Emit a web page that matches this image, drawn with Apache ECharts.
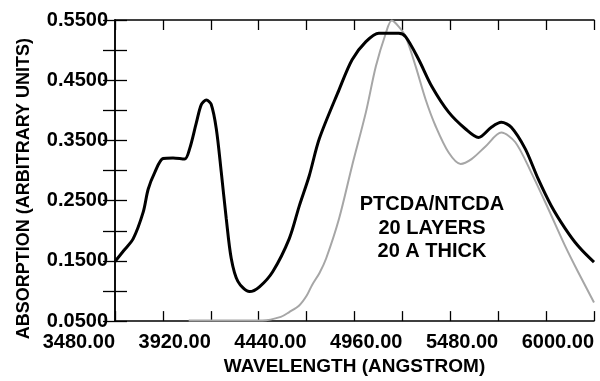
<!DOCTYPE html>
<html>
<head>
<meta charset="utf-8">
<script src="https://cdn.jsdelivr.net/npm/echarts@6/dist/echarts.min.js"></script>
<style>
  html, body { margin: 0; padding: 0; background: #fff; }
  #chart { width: 600px; height: 381px; }
</style>
</head>
<body>
<div id="chart"></div>
<script>
// multilayer spectrum (thick black line)
const multiWl = [3400, 3450, 3499, 3553, 3580, 3616, 3661, 3715, 3778, 3805, 3842, 3869, 3896, 3922,
  3950, 3977, 4004, 4031, 4067, 4130, 4184, 4256, 4346, 4400, 4454, 4508, 4616, 4687, 4762, 4832,
  4940, 4978, 5049, 5119, 5211, 5303, 5373, 5443, 5497, 5551, 5627, 5697, 5767, 5843, 5913, 6000];
const multiAbs = [0.149, 0.168, 0.187, 0.231, 0.269, 0.297, 0.320, 0.321, 0.319, 0.336, 0.380, 0.410, 0.417, 0.410,
  0.369, 0.297, 0.220, 0.154, 0.116, 0.099, 0.107, 0.132, 0.187, 0.241, 0.291, 0.352, 0.434, 0.484, 0.514, 0.528,
  0.528, 0.522, 0.484, 0.440, 0.397, 0.369, 0.355, 0.372, 0.380, 0.372, 0.336, 0.286, 0.242, 0.204, 0.175, 0.148];

// reference spectrum (thin grey line)
const refWl = [3800, 4000, 4200, 4300, 4346, 4400, 4440, 4470, 4510, 4546, 4616, 4687, 4762, 4816, 4870, 4902, 4940,
  4978, 5032, 5086, 5140, 5211, 5276, 5335, 5411, 5497, 5573, 5659, 5751, 5843, 5913, 6000];
const refAbs = [0.051, 0.051, 0.051, 0.057, 0.065, 0.076, 0.092, 0.110, 0.130, 0.154, 0.220, 0.308, 0.397, 0.473, 0.528, 0.549, 0.539,
  0.522, 0.473, 0.418, 0.374, 0.330, 0.311, 0.319, 0.340, 0.363, 0.347, 0.297, 0.237, 0.175, 0.132, 0.081];

const xTickLabels = ["3480.00", "3920.00", "4440.00", "4960.00", "5480.00", "6000.00"];

// x axis starts at 3400 with a tick every 260
const wlStart = 3400;
const wlStep = 260;

const font = "Liberation Sans, Arial, sans-serif";

const myChart = echarts.init(document.getElementById("chart"));

const tickStyle = { color: "#000", width: 1.3 };

const option = {
  animation: false,
  grid: { left: 115, right: 6, top: 20, bottom: 58 },
  title: {
    text: "PTCDA/NTCDA\n20 LAYERS\n20 A THICK",
    left: 427,
    top: 188,
    textAlign: "center",
    textStyle: {
      fontFamily: font,
      fontWeight: "bold",
      fontSize: 20,
      lineHeight: 23.5,
      color: "#000"
    }
  },
  xAxis: [
    {
      type: "value",
      position: "bottom",
      min: 0,
      max: 2600,
      interval: wlStep,
      name: "WAVELENGTH (ANGSTROM)",
      nameLocation: "middle",
      nameGap: 34,
      nameTextStyle: { fontFamily: font, fontWeight: "bold", fontSize: 19, color: "#000" },
      axisLine: { lineStyle: { color: "#000", width: 1.5 } },
      axisTick: { inside: true, length: 10, lineStyle: tickStyle },
      splitLine: { show: false },
      axisLabel: {
        margin: 11,
        align: "right",
        fontFamily: font,
        fontWeight: "bold",
        fontSize: 20,
        color: "#000",
        formatter: v => {
          const idx = Math.round(v / wlStep);
          return idx % 2 === 0 ? xTickLabels[idx / 2] : "";
        }
      }
    },
    {
      type: "value",
      position: "top",
      min: 0,
      max: 2600,
      interval: wlStep,
      axisLine: { lineStyle: { color: "#000", width: 1.5 } },
      axisTick: { inside: true, length: 10, lineStyle: tickStyle },
      splitLine: { show: false },
      axisLabel: { show: false }
    }
  ],
  yAxis: [
    {
      type: "value",
      position: "left",
      min: 0.05,
      max: 0.55,
      interval: 0.05,
      name: "ABSORPTION (ARBITRARY UNITS)",
      nameLocation: "middle",
      nameGap: 82,
      nameTextStyle: { fontFamily: font, fontWeight: "bold", fontSize: 18, color: "#000", padding: [0, 36, 0, 0] },
      axisLine: { lineStyle: { color: "#000", width: 1.5 } },
      axisTick: { inside: true, length: 12, lineStyle: tickStyle },
      splitLine: { show: false },
      axisLabel: {
        margin: 7,
        fontFamily: font,
        fontWeight: "bold",
        fontSize: 20,
        color: "#000",
        formatter: v => (Math.round(v * 100) % 10 === 5 ? v.toFixed(4) : "")
      }
    },
    {
      type: "value",
      position: "right",
      min: 0.05,
      max: 0.55,
      interval: 0.05,
      axisLine: { lineStyle: { color: "#000", width: 1.5 } },
      axisTick: { inside: true, length: 12, lineStyle: tickStyle },
      splitLine: { show: false },
      axisLabel: { show: false }
    }
  ],
  series: [
    {
      type: "line",
      xAxisIndex: 0,
      yAxisIndex: 0,
      smooth: 0.3,
      showSymbol: false,
      lineStyle: { color: "#a6a6a6", width: 2 },
      data: refWl.map((w, i) => [w - wlStart, refAbs[i]]),
      z: 2
    },
    {
      type: "line",
      xAxisIndex: 0,
      yAxisIndex: 0,
      smooth: 0.3,
      showSymbol: false,
      lineStyle: { color: "#000", width: 3 },
      data: multiWl.map((w, i) => [w - wlStart, multiAbs[i]]),
      z: 3
    }
  ]
};

myChart.setOption(option);
</script>
</body>
</html>
